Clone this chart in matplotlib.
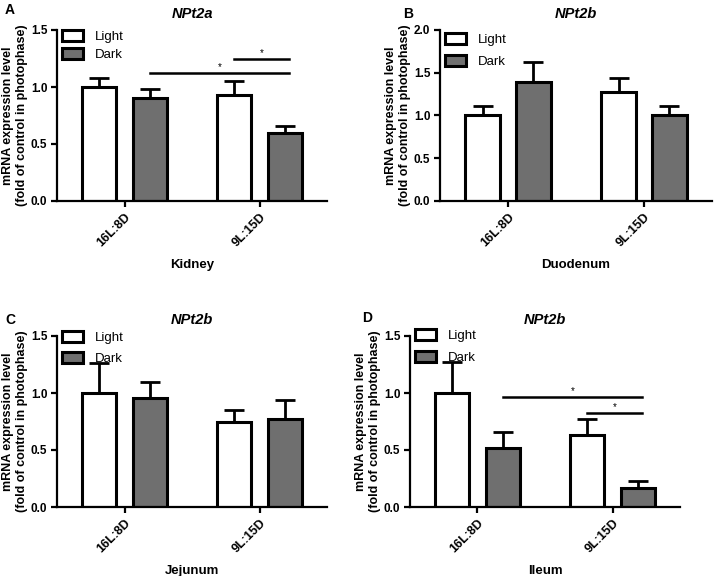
import numpy as np
import matplotlib
matplotlib.use("Agg")
import matplotlib.pyplot as plt

plt.rcParams['font.family'] = ['Liberation Sans', 'DejaVu Sans']

groups = ["16L:8D", "9L:15D"]
series = ["Light", "Dark"]

# mean and upper error (SEM) per panel
kidney_light = [1.00, 0.93]
kidney_light_err = [0.08, 0.12]
kidney_dark = [0.90, 0.60]
kidney_dark_err = [0.08, 0.06]

duod_light = [1.00, 1.28]
duod_light_err = [0.11, 0.16]
duod_dark = [1.39, 1.01]
duod_dark_err = [0.23, 0.10]

jej_light = [1.00, 0.75]
jej_light_err = [0.26, 0.10]
jej_dark = [0.96, 0.77]
jej_dark_err = [0.14, 0.17]

ileum_light = [1.00, 0.63]
ileum_light_err = [0.27, 0.14]
ileum_dark = [0.52, 0.17]
ileum_dark_err = [0.14, 0.06]

# significance: (series_a, group_a, series_b, group_b, height)
kidney_sig = [(1, 0, 1, 1, 1.12), (0, 1, 1, 1, 1.245)]
ileum_sig = [(1, 0, 1, 1, 0.965), (0, 1, 1, 1, 0.825)]

W, H = 714, 576
fig = plt.figure(figsize=(W / 100, H / 100), dpi=100)


def add_ax(x0, y0, x1, y1):
    return fig.add_axes([x0 / W, 1 - y1 / H, (x1 - x0) / W, (y1 - y0) / H])


bw = 0.255
off = 0.187
colors = ["white", "#6f6f6f"]


def panel(ax, light, light_err, dark, dark_err, title, xlabel, ymax,
          sig=None, leg_y=1.08, leg_sp=0.6):
    x = np.arange(len(groups))
    vals = [light, dark]
    errs = [light_err, dark_err]
    for i in range(2):
        xi = x + (i * 2 - 1) * off
        ax.bar(xi, vals[i], width=bw, color=colors[i], edgecolor="black",
               linewidth=2.2, label=series[i], zorder=2,
               yerr=[np.zeros(len(groups)), errs[i]],
               error_kw=dict(ecolor="black", elinewidth=2.0, capsize=7, capthick=2.0, zorder=1))
    if sig:
        for sa, ga, sb, gb, h in sig:
            xa = x[ga] + (sa * 2 - 1) * off
            xb = x[gb] + (sb * 2 - 1) * off + 0.03
            ax.plot([xa, xb], [h, h], color="black", lw=1.8)
            ax.text((xa + xb) / 2, h + 0.01, "*", ha="center", va="bottom", fontsize=7)
    ax.set_xlim(-0.5, 1.5)
    ax.set_ylim(0, ymax)
    yt = np.arange(0, ymax + 0.01, 0.5)
    ax.set_yticks(yt)
    ax.set_yticklabels(["%.1f" % v for v in yt], fontweight="bold", fontsize=8.5)
    ax.set_xticks(x)
    ax.set_xticklabels(groups, rotation=45, ha="right", rotation_mode="anchor",
                       fontweight="bold", fontsize=9)
    ax.spines["top"].set_visible(False)
    ax.spines["right"].set_visible(False)
    for s in ["left", "bottom"]:
        ax.spines[s].set_linewidth(1.6)
    ax.tick_params(width=1.6, length=4, pad=3)
    ax.set_ylabel("mRNA expression level\n(fold of control in photophase)",
                  fontweight="bold", fontsize=9, labelpad=2, linespacing=1.25)
    ax.set_xlabel(xlabel, fontweight="bold", fontsize=9.5, labelpad=7)
    ax.set_title(title, fontweight="bold", fontstyle="italic", fontsize=10.5, pad=9)
    ax.legend(loc="upper left", bbox_to_anchor=(-0.025, leg_y), frameon=False,
              fontsize=9.5, handlelength=1.6, handleheight=0.9, labelspacing=leg_sp,
              handletextpad=0.9)


axA = add_ax(57, 30, 327, 201)
panel(axA, kidney_light, kidney_light_err, kidney_dark, kidney_dark_err,
      "NPt2a", "Kidney", 1.5, kidney_sig, leg_y=1.07, leg_sp=0.35)
axB = add_ax(440, 30, 712, 201)
panel(axB, duod_light, duod_light_err, duod_dark, duod_dark_err,
      "NPt2b", "Duodenum", 2.0, leg_y=1.05, leg_sp=0.65)
axC = add_ax(57, 336, 327, 507)
panel(axC, jej_light, jej_light_err, jej_dark, jej_dark_err,
      "NPt2b", "Jejunum", 1.5, leg_y=1.10, leg_sp=0.65)
axD = add_ax(410, 336, 680, 507)
panel(axD, ileum_light, ileum_light_err, ileum_dark, ileum_dark_err,
      "NPt2b", "Ileum", 1.5, ileum_sig, leg_y=1.11, leg_sp=0.65)

for lab, px, py in [("A", 5, 10), ("B", 403, 14), ("C", 5, 320), ("D", 362, 318)]:
    fig.text(px / W, 1 - py / H, lab, fontweight="bold", fontsize=10, va="center")

fig.savefig("out.png", dpi=100)
